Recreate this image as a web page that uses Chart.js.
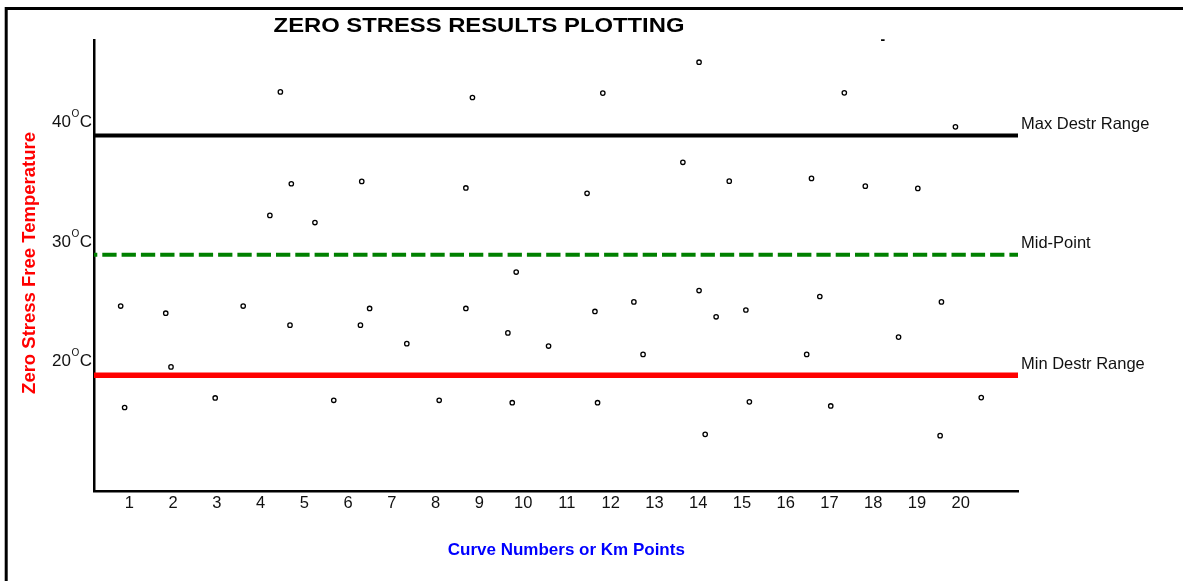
<!DOCTYPE html>
<html>
<head>
<meta charset="utf-8">
<script src="https://cdn.jsdelivr.net/npm/chart.js@4.4.1/dist/chart.umd.min.js"></script>
<style>
  html, body { margin: 0; padding: 0; background: #fff; }
  #wrap { width: 1187px; height: 581px; }
</style>
</head>
<body>
<div id="wrap"><canvas id="c" width="1187" height="581"></canvas></div>
<script>
// ---- data ----
const chartTitle = 'ZERO STRESS RESULTS PLOTTING';
const xAxisTitle = 'Curve Numbers or Km Points';
const yAxisTitle = 'Zero Stress Free Temperature';
const xTicks = [1, 2, 3, 4, 5, 6, 7, 8, 9, 10, 11, 12, 13, 14, 15, 16, 17, 18, 19, 20];
const yTicks = [20, 30, 40];
const pointX = [0.80, 0.89, 1.83, 1.95, 2.96, 3.60, 4.21, 4.45, 4.67, 4.70,
                5.24, 5.67, 6.28, 6.31, 6.49, 7.34, 8.08, 8.69, 8.69, 8.84,
                9.65, 9.75, 9.84, 10.58, 11.46, 11.64, 11.70, 11.82, 12.53, 12.74,
                13.65, 14.02, 14.02, 14.16, 14.41, 14.71, 15.09, 15.17, 16.48, 16.59,
                16.78, 17.03, 17.34, 17.82, 18.58, 19.02, 19.56, 19.53, 19.88, 20.47];
const pointY = [24.5, 16.0, 23.9, 19.4, 16.8, 24.5, 32.1, 42.45, 22.9, 34.75,
                31.5, 16.6, 22.9, 34.95, 24.3, 21.35, 16.6, 34.4, 24.3, 41.98,
                22.25, 16.4, 27.35, 21.15, 33.95, 24.05, 16.4, 42.35, 24.85, 20.45,
                36.55, 44.94, 25.8, 13.75, 23.6, 34.97, 24.17, 16.47, 20.45, 35.2,
                25.3, 16.13, 42.37, 34.55, 21.9, 34.36, 24.85, 13.64, 39.52, 16.83];
const refLabels = ['Max Destr Range', 'Mid-Point', 'Min Destr Range'];
const refValues = [38.8, 28.8, 18.7];
const xRange = [0.19, 21.31];
const yRange = [9.0, 46.8];
const strayMark = { label: '-', x: 18.22 };

// ---- styles ----
const FONT = '"Liberation Sans", Arial, Helvetica, sans-serif';
const refColors = ['#000000', '#008000', '#ff0000'];
const refWidths = [4, 4, 5.5];
const refDashes = [[], [14.3, 5], []];

const points = pointX.map((x, i) => ({ x: x, y: pointY[i] }));
const refDatasets = refValues.map((v, i) => ({
  label: refLabels[i],
  data: [{ x: xRange[0], y: v }, { x: xRange[1], y: v }],
  showLine: true,
  borderColor: refColors[i],
  borderWidth: refWidths[i],
  borderDash: refDashes[i],
  borderDashOffset: 11,
  pointRadius: 0,
  fill: false,
  tension: 0
}));

const decor = {
  id: 'decor',
  beforeDraw(chart) {
    const ctx = chart.ctx;
    ctx.save();
    ctx.fillStyle = '#fff';
    ctx.fillRect(0, 0, chart.width, chart.height);
    ctx.strokeStyle = '#000';
    ctx.lineWidth = 3;
    ctx.beginPath();
    ctx.moveTo(6.2, 581);
    ctx.lineTo(6.2, 8.5);
    ctx.lineTo(1183, 8.5);
    ctx.stroke();
    ctx.restore();
  },
  afterDraw(chart) {
    const ctx = chart.ctx;
    const xs = chart.scales.x, ys = chart.scales.y;
    const area = chart.chartArea;
    ctx.save();
    // title
    ctx.fillStyle = '#000';
    ctx.font = 'bold 20px ' + FONT;
    ctx.textAlign = 'center';
    ctx.textBaseline = 'alphabetic';
    ctx.save();
    ctx.translate(479, 32);
    ctx.scale(1.19, 1);
    ctx.fillText(chartTitle, 0, 0);
    ctx.restore();

    // y tick labels with superscript O
    ctx.textAlign = 'left';
    yTicks.forEach(v => {
      const py = ys.getPixelForValue(v) + 6.3;
      const right = area.left - 2;
      ctx.fillStyle = '#111';
      ctx.font = '17px ' + FONT;
      const wC = ctx.measureText('C').width;
      ctx.fillText('C', right - wC, py);
      ctx.font = '10px ' + FONT;
      const wO = ctx.measureText('O').width;
      ctx.fillText('O', right - wC - wO - 0.5, py - 10);
      ctx.font = '17px ' + FONT;
      const wN = ctx.measureText(String(v)).width;
      ctx.fillText(String(v), right - wC - wO - 1 - wN, py);
    });

    // y axis title
    ctx.save();
    ctx.fillStyle = '#ff0000';
    ctx.font = 'bold 18.5px ' + FONT;
    ctx.textAlign = 'center';
    ctx.translate(35, (area.top + area.bottom) / 2 - 2.5);
    ctx.rotate(-Math.PI / 2);
    ctx.fillText(yAxisTitle, 0, 0);
    ctx.restore();

    // x axis title
    ctx.fillStyle = '#0000ff';
    ctx.font = 'bold 17px ' + FONT;
    ctx.textAlign = 'center';
    ctx.fillText(xAxisTitle, 566.3, 555);

    // reference line labels
    ctx.fillStyle = '#111';
    ctx.font = '16.5px ' + FONT;
    ctx.textAlign = 'left';
    refValues.forEach((v, i) => {
      ctx.fillText(refLabels[i], area.right + 3, ys.getPixelForValue(v) - 6.5);
    });

    // stray dash mark
    ctx.fillStyle = '#000';
    ctx.font = 'bold 14px ' + FONT;
    ctx.textAlign = 'center';
    ctx.fillText(strayMark.label, xs.getPixelForValue(strayMark.x), area.top + 4);
    ctx.restore();
  }
};

new Chart(document.getElementById('c'), {
  type: 'scatter',
  data: {
    datasets: [
      {
        label: 'Zero stress results',
        data: points,
        pointRadius: 2.2,
        pointBorderWidth: 1.3,
        pointBorderColor: '#000',
        pointBackgroundColor: '#fff',
        showLine: false
      }
    ].concat(refDatasets)
  },
  options: {
    responsive: false,
    animation: false,
    devicePixelRatio: 1,
    layout: { padding: { top: 40, right: 169, left: 0, bottom: 0 } },
    plugins: { legend: { display: false }, tooltip: { enabled: false }, title: { display: false } },
    scales: {
      x: {
        type: 'linear',
        position: 'bottom',
        min: xRange[0],
        max: xRange[1],
        grid: { display: false, drawTicks: false },
        border: { display: true, color: '#000', width: 2.5 },
        ticks: { color: '#111', font: { family: FONT, size: 16.5 }, padding: 3, autoSkip: false, maxRotation: 0 },
        afterBuildTicks: s => { s.ticks = xTicks.map(v => ({ value: v })); },
        afterFit: s => { s.height = 90; }
      },
      y: {
        type: 'linear',
        min: yRange[0],
        max: yRange[1],
        grid: { display: false, drawTicks: false },
        border: { display: true, color: '#000', width: 2.5 },
        ticks: { display: false },
        afterFit: s => { s.width = 94; }
      }
    }
  },
  plugins: [decor]
});
</script>
</body>
</html>
